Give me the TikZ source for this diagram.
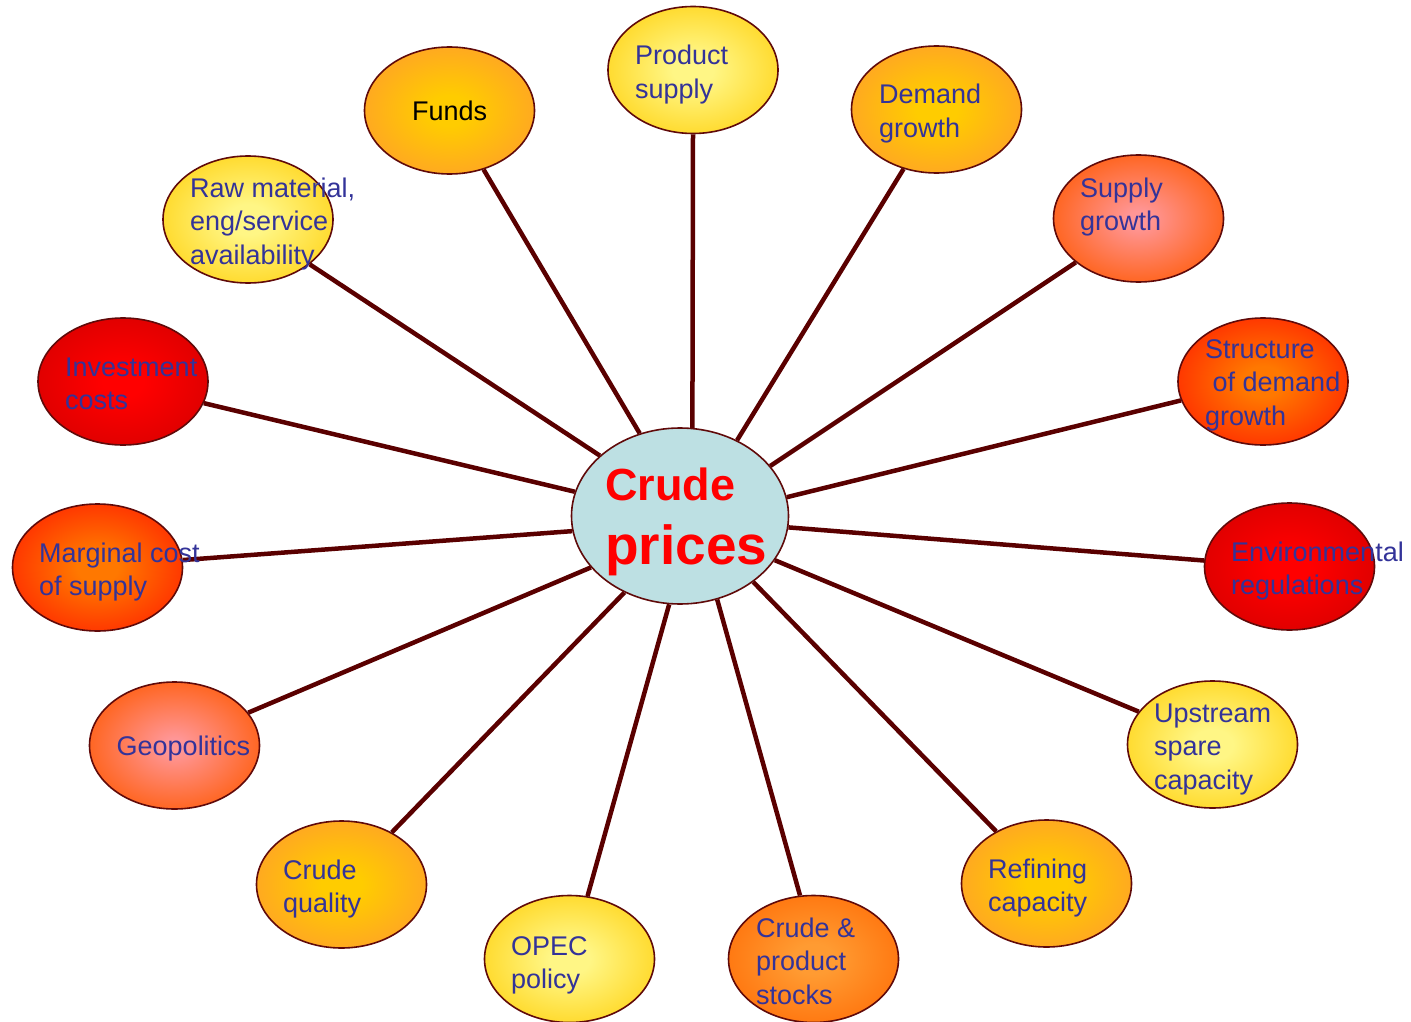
\documentclass[tikz,border=0pt]{standalone}
\usepackage{fontspec}
\setmainfont{Liberation Sans}
\usetikzlibrary{shapes.geometric,backgrounds}
\definecolor{lineC}{RGB}{90,0,0}
\definecolor{edgeC}{RGB}{96,10,10}
\definecolor{txtC}{RGB}{51,51,153}
\definecolor{hubC}{RGB}{189,224,227}
\definecolor{yIn}{RGB}{255,246,133}
\definecolor{yOut}{RGB}{255,204,0}
\definecolor{oIn}{RGB}{255,204,0}
\definecolor{oOut}{RGB}{255,150,50}
\definecolor{pIn}{RGB}{255,150,150}
\definecolor{pOut}{RGB}{255,100,30}
\definecolor{rIn}{RGB}{255,120,0}
\definecolor{rOut}{RGB}{255,20,0}
\definecolor{dIn}{RGB}{255,0,0}
\definecolor{dOut}{RGB}{208,0,0}
\definecolor{sIn}{RGB}{255,155,50}
\definecolor{sOut}{RGB}{255,102,0}
\pgfdeclareradialshading{shY}{\pgfpoint{0bp}{0bp}}{color(0bp)=(yIn); color(6bp)=(yIn); color(36bp)=(yOut); color(50bp)=(yOut)}
\pgfdeclareradialshading{shO}{\pgfpoint{0bp}{0bp}}{color(0bp)=(oIn); color(6bp)=(oIn); color(36bp)=(oOut); color(50bp)=(oOut)}
\pgfdeclareradialshading{shP}{\pgfpoint{0bp}{0bp}}{color(0bp)=(pIn); color(3bp)=(pIn); color(26bp)=(pOut); color(50bp)=(pOut)}
\pgfdeclareradialshading{shR}{\pgfpoint{0bp}{0bp}}{color(0bp)=(rIn); color(6bp)=(rIn); color(36bp)=(rOut); color(50bp)=(rOut)}
\pgfdeclareradialshading{shD}{\pgfpoint{0bp}{0bp}}{color(0bp)=(dIn); color(6bp)=(dIn); color(36bp)=(dOut); color(50bp)=(dOut)}
\pgfdeclareradialshading{shS}{\pgfpoint{0bp}{0bp}}{color(0bp)=(sIn); color(6bp)=(sIn); color(36bp)=(sOut); color(50bp)=(sOut)}
\newcommand\mlines[1]{\vtop{\halign{##\hfil\cr#1\crcr}}}
\tikzset{
  bub/.style={ellipse, draw=edgeC, line width=1.6pt, minimum width=170pt, minimum height=127pt, inner sep=0pt, shading=#1},
  lab/.style={anchor=base west, inner sep=0pt, text=txtC, font=\fontsize{27}{33.5}\selectfont},
  spoke/.style={draw=lineC, line width=4.5pt},
}
\begin{document}
\begin{tikzpicture}[x=1pt,y=-1pt]
\useasboundingbox (0,0) rectangle (1411,1022);
% hub
\node[ellipse, draw=edgeC, line width=1.6pt, fill=hubC, minimum width=217pt, minimum height=176pt, inner sep=0pt] (hub) at (680,516) {};
% bubbles
\node[bub=shO] (funds) at (449.5,110.5) {};
\node[bub=shY] (prod) at (693,70) {};
\node[bub=shO] (dem) at (936.5,109.5) {};
\node[bub=shP] (sup) at (1138.5,218.5) {};
\node[bub=shR] (struct) at (1263,381.5) {};
\node[bub=shD] (env) at (1289.5,566.5) {};
\node[bub=shY] (up) at (1212.5,744.5) {};
\node[bub=shO] (ref) at (1046.5,883.5) {};
\node[bub=shS] (stocks) at (813.5,959) {};
\node[bub=shY] (opec) at (569.5,959) {};
\node[bub=shO] (qual) at (341.5,884.5) {};
\node[bub=shP] (geo) at (174.5,745.5) {};
\node[bub=shR] (marg) at (97.5,567.5) {};
\node[bub=shD] (inv) at (123,381.5) {};
\node[bub=shY] (raw) at (248,219.5) {};
% spokes
\begin{scope}[on background layer]
\foreach \n/\a/\b in {funds/116/-60, prod/82/-90, dem/53/-119, sup/29/-145, struct/10/-167,
  env/-6/176, up/-25/156, ref/-42/134, stocks/-66/102, opec/-97/74, qual/-126/46,
  geo/-150/24, marg/-172/5, inv/167/-15, raw/143/-36}
  \draw[spoke] (hub.\a) -- (\n.\b);
\end{scope}
% hub text
\node[anchor=base west, inner sep=0pt, text=red, font=\fontsize{45}{50}\selectfont\bfseries] (tcrude) at (605,500) {Crude};
\node[anchor=base west, inner sep=0pt, text=red, font=\fontsize{55}{60}\selectfont\bfseries] (tprices) at (605,564) {prices};
% labels
\node[lab, text=black] (tfunds) at (412,121) {Funds};
\node[lab] (tprod) at (635,65) {\mlines{Product\cr supply}};
\node[lab] (tdem) at (879,104) {\mlines{Demand\cr growth}};
\node[lab] (tsup) at (1080,197) {\mlines{Supply\cr growth}};
\node[lab] (tstruct) at (1205,358) {\mlines{Structure\cr\ of demand\cr growth}};
\node[lab] (tenv) at (1231,561) {\mlines{Environmental\cr regulations}};
\node[lab] (tup) at (1154,722) {\mlines{Upstream\cr spare\cr capacity}};
\node[lab] (tref) at (988,878) {\mlines{Refining\cr capacity}};
\node[lab] (tstocks) at (756,937) {\mlines{Crude \&\cr product\cr stocks}};
\node[lab] (topec) at (511,955) {\mlines{OPEC\cr policy}};
\node[lab] (tqual) at (283,879) {\mlines{Crude\cr quality}};
\node[lab] (tgeo) at (116.5,755) {Geopolitics};
\node[lab] (tmarg) at (39,562) {\mlines{Marginal cost\cr of supply}};
\node[lab] (tinv) at (65,376) {\mlines{Investment\cr costs}};
\node[lab] (traw) at (190,197) {\mlines{Raw material,\cr eng/service\cr availability}};
\end{tikzpicture}
\end{document}
